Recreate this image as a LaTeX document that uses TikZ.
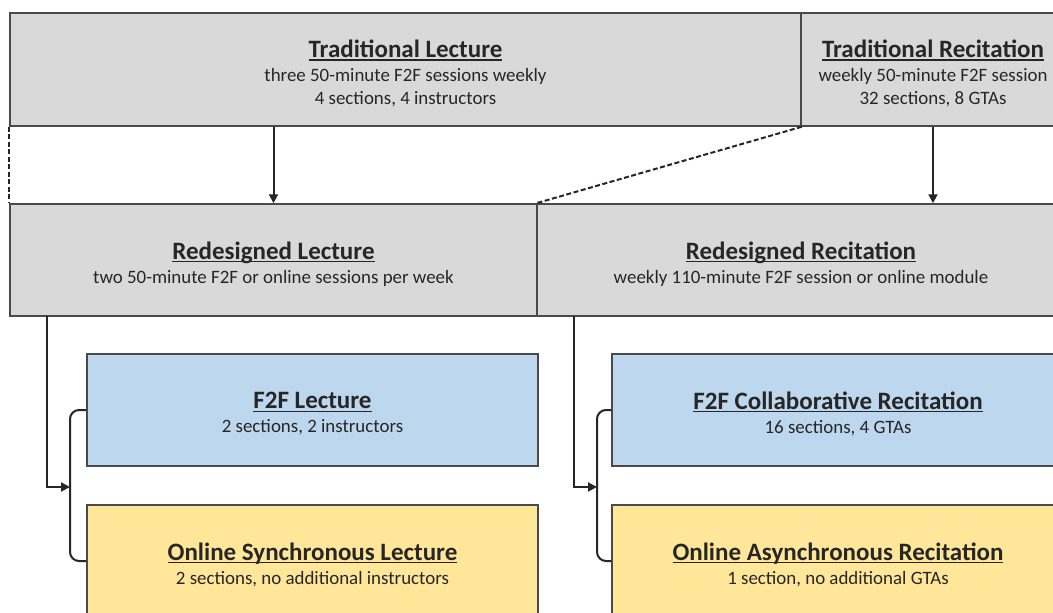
\documentclass[tikz,border=0pt]{standalone}
\usepackage{fontspec}
\setmainfont{Carlito}
\usetikzlibrary{arrows.meta}
\definecolor{boxgray}{HTML}{D9D9D9}
\definecolor{boxblue}{HTML}{BDD7EE}
\definecolor{boxyellow}{HTML}{FFE699}
\definecolor{edgecol}{HTML}{4A4A4A}
\definecolor{linecol}{HTML}{262626}
\newcommand\ttl[1]{\setbox0\hbox{\fontsize{25}{28}\selectfont\bfseries #1}\rlap{\rule[-2.8pt]{\wd0}{1.2pt}}\box0}
\newcommand\bdy{\fontsize{18.9}{22.5}\selectfont}
\begin{document}
\begin{tikzpicture}[x=1pt,y=-1pt,
  box/.style={draw=edgecol, line width=1.5pt, inner sep=0pt},
  txt/.style={inner sep=0pt, align=center, text=black!85, font=\bdy, yshift=-4pt},
  conn/.style={line width=2pt, linecol},
  arr/.style={conn, -{Triangle[length=9pt,width=9pt]}},
  dsh/.style={conn, dash pattern=on 5pt off 2.5pt}]
\useasboundingbox (0,0) rectangle (1053,613);
\clip (0,0) rectangle (1053,613);
\fill[white] (0,0) rectangle (1053,613);
\node[box, fill=boxgray, minimum width=791pt, minimum height=113pt] (tl) at (405.5,69.5) {};
\node[txt] (tlt) at (tl.center)
  {\ttl{Traditional Lecture}\\[1.5pt] three 50-minute F2F sessions weekly\\ 4 sections, 4 instructors};
\node[box, fill=boxgray, minimum width=264pt, minimum height=113pt] (tr) at (933,69.5) {};
\node[txt] (trt) at (tr.center)
  {\ttl{Traditional Recitation}\\[1.5pt] weekly 50-minute F2F session\\ 32 sections, 8 GTAs};
\node[box, fill=boxgray, minimum width=527pt, minimum height=112pt] (rl) at (273.5,260) {};
\node[txt] (rlt) at (rl.center)
  {\ttl{Redesigned Lecture}\\[1.5pt] two 50-minute F2F or online sessions per week};
\node[box, fill=boxgray, minimum width=528pt, minimum height=112pt] (rr) at (801,260) {};
\node[txt] (rrt) at (rr.center)
  {\ttl{Redesigned Recitation}\\[1.5pt] weekly 110-minute F2F session or online module};
\node[box, fill=boxblue, minimum width=451pt, minimum height=112pt] (fl) at (312.5,410) {};
\node[txt] (flt) at (fl.center)
  {\ttl{F2F Lecture}\\[1.5pt] 2 sections, 2 instructors};
\node[box, fill=boxyellow, minimum width=451pt, minimum height=112pt] (ol) at (312.5,561) {};
\node[txt] (olt) at (ol.center)
  {\ttl{Online Synchronous Lecture}\\[1.5pt] 2 sections, no additional instructors};
\node[box, fill=boxblue, minimum width=452pt, minimum height=112pt] (fr) at (838,410) {};
\node[txt] (frt) at (fr.center)
  {\ttl{F2F Collaborative Recitation}\\[1.5pt] 16 sections, 4 GTAs};
\node[box, fill=boxyellow, minimum width=452pt, minimum height=112pt] (or) at (838,561) {};
\node[txt] (ort) at (or.center)
  {\ttl{Online Asynchronous Recitation}\\[1.5pt] 1 section, no additional GTAs};
% top connectors
\draw[dsh] (tl.south west) -- (rl.north west);
\draw[arr] (tl.south -| rl.north) -- (rl.north);
\draw[dsh] (tl.south east) -- (rr.north west);
\draw[arr] (tr.south) -- (tr.south |- rr.north);
% lecture split
\coordinate (ls) at (47,316);
\coordinate (lb) at (70,487);
\draw[arr] (ls) |- (lb);
\draw[conn, rounded corners=9pt] (fl.west) -| (lb) |- (ol.west);
% recitation split
\coordinate (rs) at (574,316);
\coordinate (rb) at (597,487);
\draw[arr] (rs) |- (rb);
\draw[conn, rounded corners=9pt] (fr.west) -| (rb) |- (or.west);
\end{tikzpicture}
\end{document}
